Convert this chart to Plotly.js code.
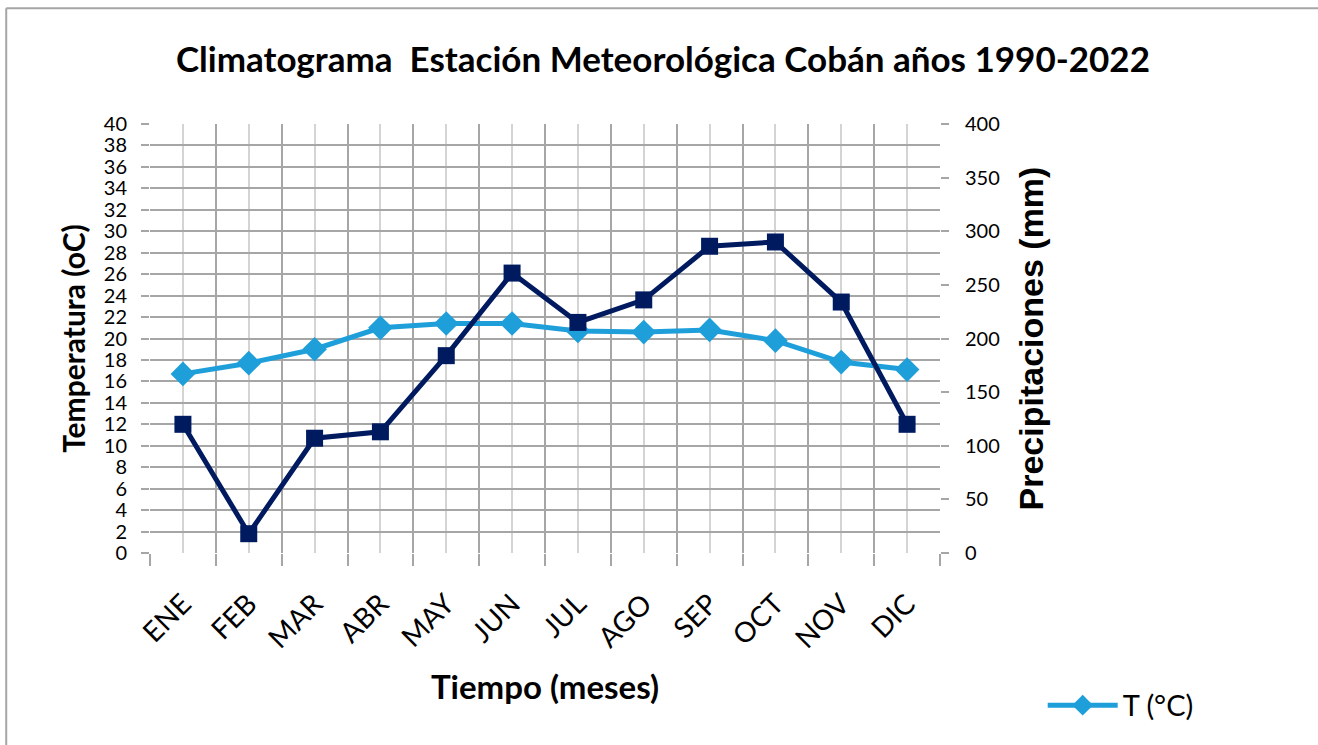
<!DOCTYPE html>
<html>
<head>
<meta charset="utf-8">
<script src="https://cdn.plot.ly/plotly-3.0.1.min.js"></script>
<style>
  html, body { margin: 0; padding: 0; background: #ffffff; overflow: hidden; }
  #chart { width: 1318px; height: 745px; }
</style>
</head>
<body>
<div id="chart"></div>
<script>
// ---- data ----
const months = ["ENE", "FEB", "MAR", "ABR", "MAY", "JUN", "JUL", "AGO", "SEP", "OCT", "NOV", "DIC"];
const temperature = [16.7, 17.7, 19.0, 21.0, 21.4, 21.4, 20.7, 20.6, 20.8, 19.8, 17.8, 17.1];
const precipitation = [120, 18, 107, 113, 184, 261, 215, 236, 286, 290, 234, 120];
const tempTicks = [0, 2, 4, 6, 8, 10, 12, 14, 16, 18, 20, 22, 24, 26, 28, 30, 32, 34, 36, 38, 40];
const precipTicks = [0, 50, 100, 150, 200, 250, 300, 350, 400];

const lightBlue = "#1f9fda";
const navy = "#001a60";
const gridDark = "#a6a6a6";
const gridLight = "#d4d4d4";
const calibri = "Lato, 'Open Sans', sans-serif";

const traces = [
  {
    x: months, y: temperature, name: "T (°C)", type: "scatter", mode: "lines+markers",
    xaxis: "x", yaxis: "y",
    line: { color: lightBlue, width: 5 },
    marker: { symbol: "diamond", size: 19, color: lightBlue },
    showlegend: true
  },
  {
    x: months, y: precipitation, name: "P (mm)", type: "scatter", mode: "lines+markers",
    xaxis: "x2", yaxis: "y2",
    line: { color: navy, width: 5 },
    marker: { symbol: "square", size: 17, color: navy },
    showlegend: false
  }
];

// outer chart frame (top and left edges only, as in the reference)
const frameShapes = [
  { type: "line", xref: "paper", yref: "paper", x0: -0.182, x1: -0.182, y0: 1.27, y1: -0.6,
    line: { color: gridDark, width: 2 }, layer: "below" },
  { type: "line", xref: "paper", yref: "paper", x0: -0.182, x1: 1.6, y0: 1.27, y1: 1.27,
    line: { color: gridDark, width: 2 }, layer: "below" }
];

const layout = {
  width: 1318, height: 745,
  margin: { l: 150, r: 378, t: 124, b: 192, pad: 0 },
  paper_bgcolor: "#ffffff", plot_bgcolor: "#ffffff",
  font: { family: calibri, color: "#000000", size: 20 },
  shapes: frameShapes,
  title: {
    text: "<b>Climatograma  Estación Meteorológica Cobán años 1990-2022</b>",
    font: { family: calibri, size: 35, color: "#000000" },
    x: 0.503, xanchor: "center", xref: "container",
    y: 0.92, yanchor: "middle", yref: "container"
  },
  xaxis: {
    type: "category", categoryarray: months, categoryorder: "array",
    range: [-0.5, 11.5],
    showgrid: true, gridcolor: gridLight, gridwidth: 2,
    ticks: "", showline: false, zeroline: false,
    tickangle: -45, tickfont: { family: calibri, size: 28, color: "#000000" },
    ticklabelstandoff: 28,
    title: { text: "<b>Tiempo (meses)</b>", font: { family: calibri, size: 33, color: "#000000" }, standoff: 22 },
    automargin: false
  },
  xaxis2: {
    type: "category", categoryarray: months, categoryorder: "array",
    range: [-0.5, 11.5], overlaying: "x", anchor: "y2", side: "bottom",
    tickson: "boundaries", showgrid: true, gridcolor: gridDark, gridwidth: 2,
    ticks: "outside", ticklen: 12, tickwidth: 2, tickcolor: gridDark,
    showticklabels: false, showline: false, zeroline: false
  },
  yaxis: {
    range: [0, 40], tickmode: "array", tickvals: tempTicks,
    showgrid: true, gridcolor: gridDark, gridwidth: 2, zeroline: false, showline: false,
    ticks: "outside", ticklen: 8, tickwidth: 2, tickcolor: gridDark,
    tickfont: { family: calibri, size: 20, color: "#000000" },
    ticklabelstandoff: 10,
    title: { text: "<b>Temperatura (oC)</b>", font: { family: calibri, size: 30, color: "#000000" }, standoff: 9 },
    automargin: false
  },
  yaxis2: {
    range: [0, 400], tickmode: "array", tickvals: precipTicks,
    overlaying: "y", side: "right", anchor: "x2",
    showgrid: false, zeroline: false, showline: false,
    ticks: "outside", ticklen: 8, tickwidth: 2, tickcolor: gridDark,
    tickfont: { family: calibri, size: 20, color: "#000000" },
    ticklabelstandoff: 12,
    title: { text: "<b>Precipitaciones (mm)</b>", font: { family: "'Liberation Sans', Arial, sans-serif", size: 34, color: "#000000" }, standoff: 20 },
    automargin: false
  },
  showlegend: true,
  legend: {
    x: 1.13, y: -0.355, xanchor: "left", yanchor: "middle",
    xref: "paper", yref: "paper",
    orientation: "h", bgcolor: "rgba(0,0,0,0)", itemwidth: 70,
    font: { family: calibri, size: 29, color: "#000000" }
  }
};

Plotly.newPlot("chart", traces, layout, { displayModeBar: false, staticPlot: true });
</script>
</body>
</html>
